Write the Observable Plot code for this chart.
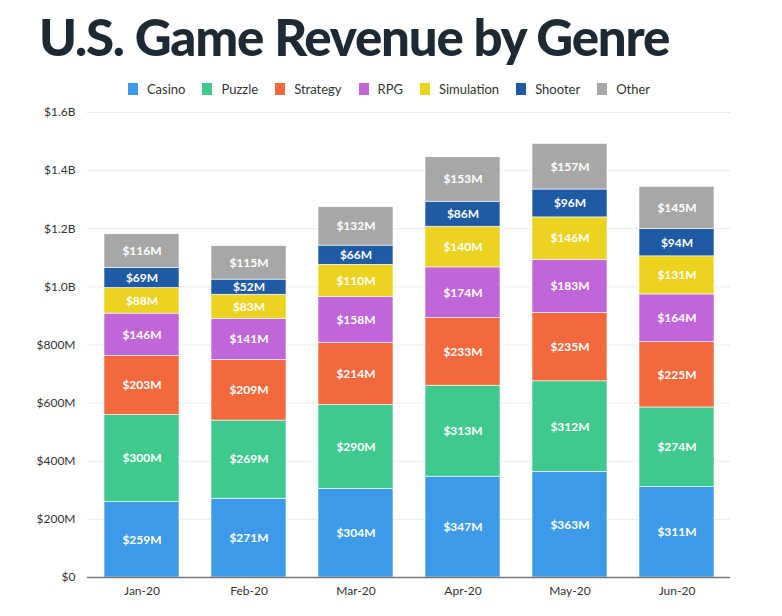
<!DOCTYPE html>
<html>
<head>
<meta charset="utf-8">
<script src="https://cdn.jsdelivr.net/npm/d3@7"></script>
<script src="https://cdn.jsdelivr.net/npm/@observablehq/plot@0.6"></script>
<style>
  body { margin: 0; background: #fff; font-family: Lato, "Open Sans", sans-serif; }
  #wrap { position: relative; width: 782px; height: 616px; overflow: hidden; }
  #title { position: absolute; left: 39px; top: 6px; font-family: Lato, sans-serif; font-weight: 900; font-size: 51px; color: #1e2a33; letter-spacing: -1.2px; white-space: nowrap; }
  #legend { position: absolute; left: 0; width: 778px; top: 81px; display: flex; justify-content: center; gap: 17px; font-size: 13px; color: #333; }
  #legend span.item { display: flex; align-items: center; gap: 9px; }
  #legend span.sw { display: inline-block; width: 10px; height: 12px; }
  #chart { position: absolute; left: 0; top: 100px; }
</style>
</head>
<body>
<div id="wrap">
  <div id="title">U.S. Game Revenue by Genre</div>
  <div id="legend"></div>
  <div id="chart"></div>
</div>
<script>
const months = ["Jan-20", "Feb-20", "Mar-20", "Apr-20", "May-20", "Jun-20"];
const genres = ["Casino", "Puzzle", "Strategy", "RPG", "Simulation", "Shooter", "Other"];
const colors = ["#3d9ae8", "#3fc98f", "#f3683d", "#c066d8", "#ebd320", "#1f5aa5", "#a7a7a7"];
// values in $M
const casino     = [259, 271, 304, 347, 363, 311];
const puzzle     = [300, 269, 290, 313, 312, 274];
const strategy   = [203, 209, 214, 233, 235, 225];
const rpg        = [146, 141, 158, 174, 183, 164];
const simulation = [88, 83, 110, 140, 146, 131];
const shooter    = [69, 52, 66, 86, 96, 94];
const other      = [116, 115, 132, 153, 157, 145];
const yTicks = [0, 200, 400, 600, 800, 1000, 1200, 1400, 1600];
const yTickLabels = ["$0", "$200M", "$400M", "$600M", "$800M", "$1.0B", "$1.2B", "$1.4B", "$1.6B"];

const series = [casino, puzzle, strategy, rpg, simulation, shooter, other];
const data = [];
genres.forEach((g, gi) => months.forEach((m, mi) => data.push({month: m, genre: g, value: series[gi][mi]})));

const legend = document.getElementById("legend");
genres.forEach((g, i) => {
  const it = document.createElement("span");
  it.className = "item";
  it.innerHTML = `<span class="sw" style="background:${colors[i]}"></span><span>${g}</span>`;
  legend.appendChild(it);
});

const chart = Plot.plot({
  width: 782,
  height: 516,
  marginLeft: 87,
  marginRight: 52,
  marginTop: 12,
  marginBottom: 39,
  style: {fontFamily: "Lato, sans-serif", fontSize: "12px", color: "#333"},
  x: {domain: months, paddingInner: 0.3, paddingOuter: 0.15, label: null, tickSize: 0, tickPadding: 9},
  y: {domain: [0, 1600], ticks: yTicks, tickFormat: d => yTickLabels[yTicks.indexOf(d)], label: null, tickSize: 0, tickPadding: 12},
  color: {domain: genres, range: colors},
  marks: [
    Plot.gridY(yTicks.slice(1), {stroke: "#e6e6e6", strokeOpacity: 1, strokeDasharray: "3,1"}),
    Plot.barY(data, Plot.stackY({x: "month", y: "value", fill: "genre", z: "genre", order: genres, stroke: "white", strokeWidth: 0.6})),
    Plot.text(data, Plot.stackY({x: "month", y: "value", z: "genre", order: genres, text: d => `$${d.value}M`, fill: "white", fontWeight: "bold", fontSize: 12})),
    Plot.ruleY([0], {stroke: "#777", strokeWidth: 1.5})
  ]
});
document.getElementById("chart").appendChild(chart);
</script>
</body>
</html>
